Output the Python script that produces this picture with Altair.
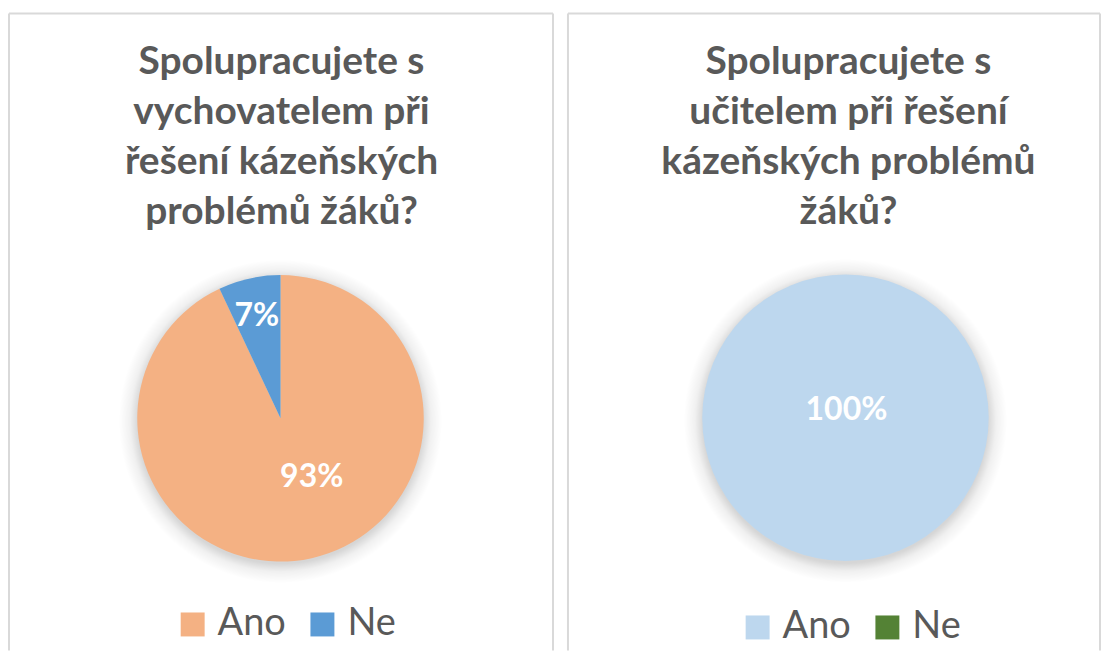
import altair as alt
import pandas as pd

categories = ["Ano", "Ne"]
left_values = [93, 7]
right_values = [100, 0]
left_colors = ["#F4B183", "#5B9BD5"]
right_colors = ["#BDD7EE", "#548235"]
left_title = ["Spolupracujete s", "vychovatelem při", "řešení kázeňských", "problémů žáků?"]
right_title = ["Spolupracujete s", "učitelem při řešení", "kázeňských problémů", "žáků?"]

FONT = "Lato"
GRAY = "#595959"
BORDER = "#d9d9d9"
R = 143.5
H = 638

shadow_fill = alt.RadialGradient(
    gradient="radial", x1=0.5, y1=0.5, r1=0, x2=0.5, y2=0.5, r2=0.5,
    stops=[
        alt.GradientStop(offset=0, color="rgba(0,0,0,0.16)"),
        alt.GradientStop(offset=0.88, color="rgba(0,0,0,0.16)"),
        alt.GradientStop(offset=0.93, color="rgba(0,0,0,0.06)"),
        alt.GradientStop(offset=1, color="rgba(0,0,0,0)"),
    ],
)


def panel(values, colors, title_lines, w, h, cx, cy, tx, lx, ly, label_specs):
    df = pd.DataFrame({"cat": categories, "value": values})
    base = alt.Chart(df)
    one = alt.Chart(pd.DataFrame({"k": [0]}))
    theta_scale = alt.Scale(domain=[0, 100])

    borders = [
        one.mark_rule(color=BORDER, strokeWidth=2).encode(
            x=alt.value(0), y=alt.value(0), y2=alt.value(h)),
        one.mark_rule(color=BORDER, strokeWidth=2).encode(
            x=alt.value(w), y=alt.value(0), y2=alt.value(h)),
        one.mark_rule(color=BORDER, strokeWidth=2).encode(
            x=alt.value(0), x2=alt.value(w), y=alt.value(0)),
    ]

    shadow = one.mark_arc(
        radius=162, theta=0, theta2=6.2832, fill=shadow_fill
    ).encode(x=alt.value(cx), y=alt.value(cy + 3))

    arcs = base.mark_arc(radius=R).encode(
        theta=alt.Theta("value:Q", stack=True, scale=theta_scale),
        color=alt.Color(
            "cat:N",
            scale=alt.Scale(domain=categories, range=colors),
            legend=alt.Legend(
                orient="none", legendX=lx, legendY=ly, direction="horizontal",
                title=None, symbolType="square", symbolSize=576,
                symbolStrokeWidth=0, labelFontSize=38, labelFont=FONT,
                labelColor=GRAY, labelOffset=6, columnPadding=17, padding=0,
            ),
        ),
        order=alt.Order("cat:N"),
        x=alt.value(cx),
        y=alt.value(cy),
    )

    title = one.mark_text(
        font=FONT, fontSize=39, fontWeight="bold", color=GRAY,
        align="center", baseline="alphabetic", lineHeight=50,
    ).encode(text=alt.value(title_lines), x=alt.value(tx), y=alt.value(61))

    layers = borders + [shadow, arcs, title]
    for cat, r, dx, dy in label_specs:
        lab = base.transform_window(
            cum="sum(value)", sort=[alt.SortField("cat")]
        ).transform_calculate(
            mid="datum.cum - datum.value / 2", lbl="datum.value + '%'"
        ).transform_filter(
            f"datum.cat == '{cat}'"
        ).mark_text(
            radius=r, dx=dx, dy=dy, font=FONT, fontSize=32, fontWeight="bold",
            color="white", align="center", baseline="alphabetic",
        ).encode(
            theta=alt.Theta("mid:Q", stack=False, scale=theta_scale),
            text="lbl:N",
            x=alt.value(cx),
            y=alt.value(cy),
        )
        layers.append(lab)

    return alt.layer(*layers).properties(width=w, height=h)


left = panel(left_values, left_colors, left_title, 545, H, 272, 405.5, 273,
             165, 593, [("Ano", 70, 16, 0), ("Ne", 95, -3, 0)])
right = panel(right_values, right_colors, right_title, 533, H, 278, 405, 281,
              171, 596, [("Ano", 0, 1, 2)])

chart = alt.hconcat(left, right, spacing=13).resolve_scale(
    color="independent", theta="independent"
).configure_view(
    stroke=None
).properties(
    padding={"left": 0, "top": 4, "right": 0, "bottom": 0}, background="white"
)

chart.save("out.html", embed_options={"renderer": "svg", "actions": False})
